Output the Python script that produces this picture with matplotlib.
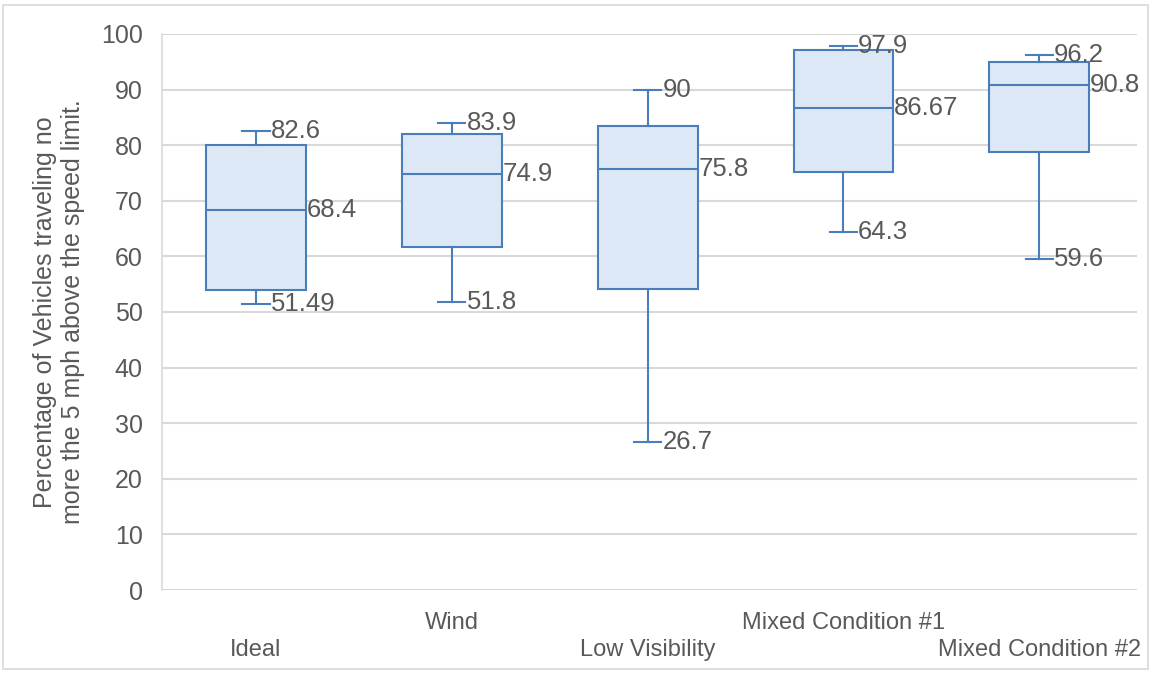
import matplotlib
matplotlib.use("Agg")
import matplotlib.pyplot as plt
from matplotlib.patches import Rectangle

plt.rcParams['font.family'] = ['Liberation Sans', 'DejaVu Sans']

categories = ["Ideal", "Wind", "Low Visibility", "Mixed Condition #1", "Mixed Condition #2"]
whisker_low = [51.49, 51.8, 26.7, 64.3, 59.6]
q1 = [54.0, 61.6, 54.2, 75.1, 78.7]
medians = [68.4, 74.9, 75.8, 86.67, 90.8]
q3 = [80.0, 82.1, 83.5, 97.2, 95.0]
whisker_high = [82.6, 83.9, 90, 97.9, 96.2]

ylabel = "Percentage of Vehicles traveling no\nmore the 5 mph above the speed limit."

text_col = "#595959"
edge_col = "#4a7ebb"
face_col = "#dce8f5"
grid_col = "#d9d9d9"

fig = plt.figure(figsize=(11.51, 6.74), dpi=100)
ax = fig.add_axes([0.1407, 0.1246, 0.8473, 0.825])

stats = []
for i, c in enumerate(categories):
    stats.append({"label": c, "whislo": whisker_low[i], "q1": q1[i], "med": medians[i],
                  "q3": q3[i], "whishi": whisker_high[i], "fliers": []})

pos = list(range(1, len(categories) + 1))
box_w = 0.51
cap_w = 0.14
ax.bxp(stats, positions=pos, widths=box_w, patch_artist=True, showfliers=False,
       capwidths=cap_w,
       boxprops=dict(facecolor=face_col, edgecolor=edge_col, linewidth=1.5),
       medianprops=dict(color=edge_col, linewidth=1.5),
       whiskerprops=dict(color=edge_col, linewidth=1.5),
       capprops=dict(color=edge_col, linewidth=1.5), zorder=3)

# value labels next to caps and medians
fs_val = 18.5
for i, p in enumerate(pos):
    for v in (whisker_low[i], whisker_high[i]):
        ax.text(p + cap_w / 2 + 0.005, v, f"{v:g}", fontsize=fs_val, color=text_col,
                va="center", ha="left", zorder=4)
    ax.text(p + box_w / 2 + 0.003, medians[i], f"{medians[i]:g}", fontsize=fs_val,
            color=text_col, va="center", ha="left", zorder=4)

ax.set_xlim(0.52, 5.5)
ax.set_ylim(0, 100)
ax.set_yticks(range(0, 101, 10))
ax.yaxis.grid(True, color=grid_col, linewidth=1.5, zorder=0)
ax.set_axisbelow(True)
for s in ("top", "right", "bottom"):
    ax.spines[s].set_visible(False)
ax.spines["left"].set_color(grid_col)
ax.spines["left"].set_linewidth(1.2)
ax.tick_params(axis="y", length=0, pad=14, labelsize=18, labelcolor=text_col)
ax.tick_params(axis="x", length=0, labelsize=17, labelcolor=text_col)

ax.set_xticks(pos)
ax.set_xticklabels(categories)
for i, t in enumerate(ax.xaxis.get_major_ticks()):
    t.set_pad(35.5 if i % 2 == 0 else 16)

ax.set_ylabel(ylabel, fontsize=18, color=text_col, labelpad=11, linespacing=1.25)

fig.patches.append(Rectangle((0.003, 0.008), 0.994, 0.985, transform=fig.transFigure,
                             fill=False, edgecolor=grid_col, linewidth=1.2))

fig.savefig("out.png", dpi=100, facecolor="white")
